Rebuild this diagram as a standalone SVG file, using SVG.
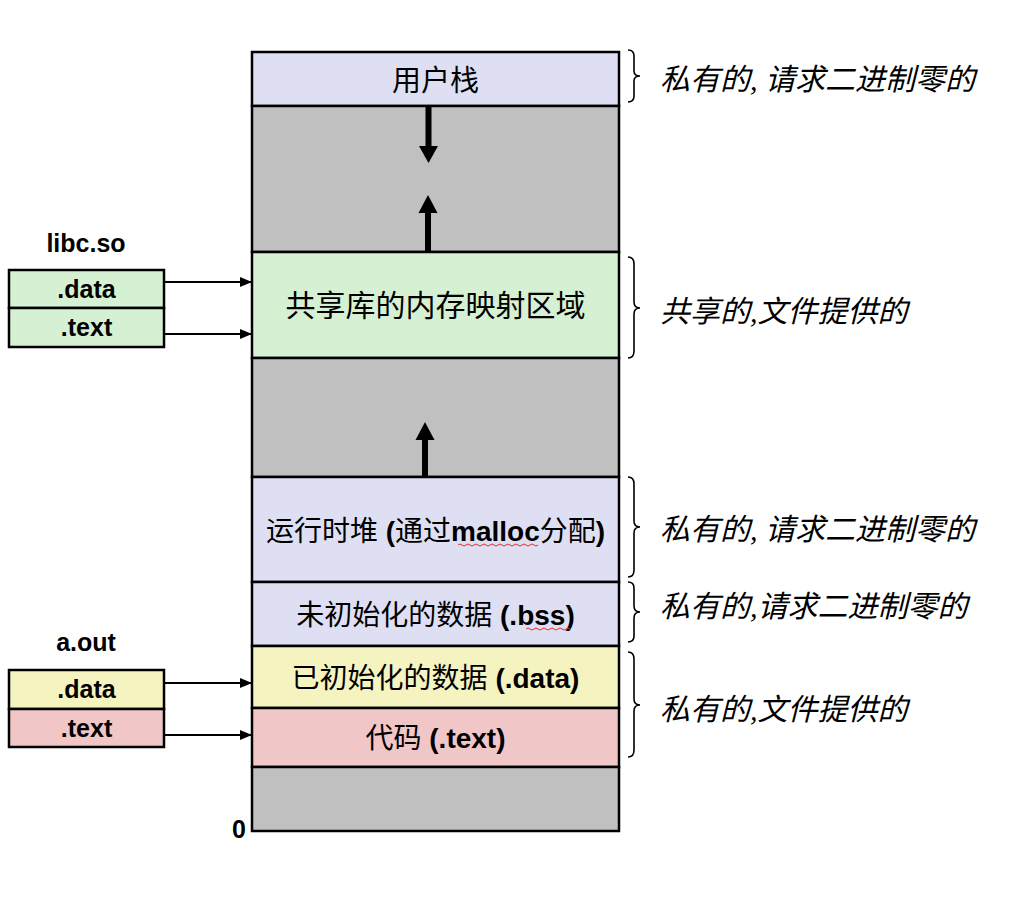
<svg xmlns="http://www.w3.org/2000/svg" width="1015" height="911" viewBox="0 0 1015 911">
<style>
.seg{stroke:#000;stroke-width:2.5}
.gray{fill:#c0c0c0}
.lav{fill:#dedff3}
.grn{fill:#d6f0d3}
.yel{fill:#f5f3c0}
.pnk{fill:#f0c6c6}
.lbl{font-family:"Liberation Sans","Noto Sans CJK SC",sans-serif;font-size:28px;fill:#000;text-anchor:middle}
.b{font-weight:bold}
.sm{font-family:"Liberation Sans","Noto Sans CJK SC",sans-serif;font-size:25px;font-weight:bold;fill:#000;text-anchor:middle}
.note{font-family:"Liberation Serif","Noto Sans CJK SC",serif;font-size:30px;font-style:italic;fill:#000}
.brace{fill:none;stroke:#000;stroke-width:1.6}
.conn{stroke:#000;stroke-width:1.8;fill:none}
.big{stroke:#000;stroke-width:6}
.sq{fill:none;stroke:#e03030;stroke-width:1}
</style>
<defs>
<marker id="ah" markerWidth="12" markerHeight="10" refX="12" refY="5" orient="auto" markerUnits="userSpaceOnUse">
<path d="M0,0 L12,5 L0,10 Z" fill="#000"/>
</marker>
</defs>
<rect width="1015" height="911" fill="#fff"/>

<g id="memory">
<g id="stack"><rect class="seg lav" x="252" y="52" width="367" height="54"/><text class="lbl" x="435.5" y="91" style="font-size:29px">用户栈</text></g>
<g id="gap1"><rect class="seg gray" x="252" y="106" width="367" height="146"/></g>
<g id="shared"><rect class="seg grn" x="252" y="252" width="367" height="106"/><text class="lbl" x="435.5" y="316" style="font-size:30px">共享库的内存映射区域</text></g>
<g id="gap2"><rect class="seg gray" x="252" y="358" width="367" height="119"/></g>
<g id="heap"><rect class="seg lav" x="252" y="477" width="367" height="105"/><text class="lbl" x="435.5" y="541">运行时堆<tspan class="b"> (</tspan>通过<tspan class="b">malloc</tspan>分配<tspan class="b">)</tspan></text>
<path class="sq" d="M458,545 q2,-2 4,0 t4,0 t4,0 t4,0 t4,0 t4,0 t4,0 t4,0 t4,0 t4,0 t4,0 t4,0 t4,0 t4,0 t4,0 t4,0 t4,0 t4,0 t4,0 t4,0"/></g>
<g id="bss"><rect class="seg lav" x="252" y="582" width="367" height="64"/><text class="lbl" x="435.5" y="625">未初始化的数据<tspan class="b"> (.bss)</tspan></text>
<path class="sq" d="M526,629 q2,-2 4,0 t4,0 t4,0 t4,0 t4,0 t4,0 t4,0 t4,0 t4,0 t4,0 t4,0"/></g>
<g id="data"><rect class="seg yel" x="252" y="646" width="367" height="62"/><text class="lbl" x="435.5" y="688">已初始化的数据<tspan class="b"> (.data)</tspan></text></g>
<g id="text"><rect class="seg pnk" x="252" y="708" width="367" height="59"/><text class="lbl" x="435.5" y="748">代码<tspan class="b"> (.text)</tspan></text></g>
<g id="gap3"><rect class="seg gray" x="252" y="767" width="367" height="64"/></g>
<text class="sm" x="239" y="838">0</text>
</g>

<g id="growth">
<line class="big" x1="428.5" y1="106" x2="428.5" y2="147"/>
<polygon points="419,146 438,146 428.5,163" fill="#000"/>
<line class="big" x1="428" y1="212" x2="428" y2="252"/>
<polygon points="418.5,213 437.5,213 428,195" fill="#000"/>
<line class="big" x1="425" y1="439" x2="425" y2="477"/>
<polygon points="415.5,440 434.5,440 425,422" fill="#000"/>
</g>

<g id="libc">
<text class="sm" x="86" y="252">libc.so</text>
<g id="libc-data"><rect class="seg grn" x="9" y="270" width="155" height="38"/><text class="sm" x="86.5" y="298">.data</text></g>
<g id="libc-text"><rect class="seg grn" x="9" y="308" width="155" height="39"/><text class="sm" x="86.5" y="336">.text</text></g>
</g>

<g id="aout">
<text class="sm" x="86" y="651">a.out</text>
<g id="aout-data"><rect class="seg yel" x="9" y="670" width="155" height="39"/><text class="sm" x="86.5" y="698">.data</text></g>
<g id="aout-text"><rect class="seg pnk" x="9" y="709" width="155" height="38"/><text class="sm" x="86.5" y="737">.text</text></g>
</g>

<g id="connectors">
<line class="conn" x1="164" y1="282" x2="252" y2="282" marker-end="url(#ah)"/>
<line class="conn" x1="164" y1="334" x2="252" y2="334" marker-end="url(#ah)"/>
<line class="conn" x1="164" y1="683" x2="252" y2="683" marker-end="url(#ah)"/>
<line class="conn" x1="164" y1="735" x2="252" y2="735" marker-end="url(#ah)"/>
</g>

<g id="notes">
<path class="brace" d="M628,50 Q634,50 634,56 L634,71 Q634,76 640,76 Q634,76 634,81 L634,96 Q634,102 628,102"/>
<text class="note" x="660" y="90">私有的, 请求二进制零的</text>
<path class="brace" d="M628,257 Q634,257 634,264 L634,302 Q634,308 640,308 Q634,308 634,314 L634,351 Q634,358 628,358"/>
<text class="note" x="660" y="322">共享的,文件提供的</text>
<path class="brace" d="M628,477 Q634,477 634,484 L634,521 Q634,527 640,527 Q634,527 634,533 L634,570 Q634,577 628,577"/>
<text class="note" x="660" y="540">私有的, 请求二进制零的</text>
<path class="brace" d="M628,582 Q634,582 634,588 L634,606 Q634,612 640,612 Q634,612 634,618 L634,636 Q634,642 628,642"/>
<text class="note" x="660" y="617">私有的,请求二进制零的</text>
<path class="brace" d="M628,652 Q634,652 634,659 L634,699 Q634,705 640,705 Q634,705 634,711 L634,750 Q634,757 628,757"/>
<text class="note" x="660" y="720">私有的,文件提供的</text>
</g>
</svg>
